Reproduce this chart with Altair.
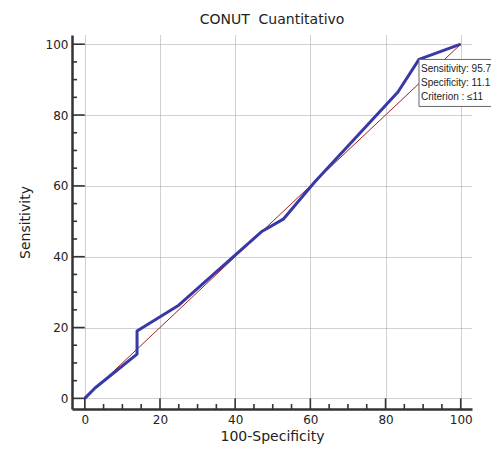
import altair as alt
import pandas as pd

# ROC curve vertices (100-Specificity, Sensitivity)
fpr = [0.0, 2.8, 13.9, 13.9, 25.0, 47.2, 52.8, 61.1, 83.3, 88.9, 100.0]
tpr = [0.0, 3.0, 12.5, 19.0, 26.3, 47.2, 50.6, 61.0, 86.5, 95.7, 100.0]
diag_x = [0, 100]
diag_y = [0, 100]
major_ticks = [0, 20, 40, 60, 80, 100]
minor_ticks = [5, 10, 15, 25, 30, 35, 45, 50, 55, 65, 70, 75, 85, 90, 95]
crit_x = [88.9]
crit_y = [95.7]
crit_lines = ["Sensitivity: 95.7", "Specificity: 11.1", "Criterion : \u226411"]

X_MIN, X_MAX = -3.4, 103.0
Y_MIN, Y_MAX = -3.0, 102.6
FONT = "DejaVu Sans"
INK = "#333333"

curve = pd.DataFrame({"x": fpr, "y": tpr, "i": list(range(len(fpr)))})
diag = pd.DataFrame({"x": diag_x, "y": diag_y})
xmaj = pd.DataFrame({"x": major_ticks, "y": Y_MIN, "y2": 0.0})
xmin = pd.DataFrame({"x": minor_ticks, "y": Y_MIN, "y2": Y_MIN + 1.4})
ymaj = pd.DataFrame({"y": major_ticks, "x": X_MIN, "x2": 0.0})
ymin = pd.DataFrame({"y": minor_ticks, "x": X_MIN, "x2": X_MIN + 1.35})
crit = pd.DataFrame({"x": crit_x, "y": crit_y, "t": ["\n".join(crit_lines)]})

xenc = alt.X(
    "x:Q",
    scale=alt.Scale(domain=[X_MIN, X_MAX], nice=False, zero=False),
    axis=alt.Axis(values=major_ticks, title="100-Specificity", ticks=False,
                  grid=True, gridDash=[1, 1], gridColor="#a0a0a0",
                  domainColor=INK, domainWidth=2.5, labelPadding=5,
                  titlePadding=4),
)
yenc = alt.Y(
    "y:Q",
    scale=alt.Scale(domain=[Y_MIN, Y_MAX], nice=False, zero=False),
    axis=alt.Axis(values=major_ticks, title="Sensitivity", ticks=False,
                  grid=True, gridDash=[1, 1], gridColor="#a0a0a0",
                  domainColor=INK, domainWidth=2.5, labelPadding=4,
                  titlePadding=13),
)

diag_layer = alt.Chart(diag).mark_line(color="#a02020", strokeWidth=1).encode(x=xenc, y=yenc)
curve_layer = alt.Chart(curve).mark_line(color="#3838a8", strokeWidth=3, strokeJoin="round").encode(
    x=xenc, y=yenc, order="i:Q")
xmaj_layer = alt.Chart(xmaj).mark_rule(color=INK, strokeWidth=1.6).encode(x=xenc, y=yenc, y2="y2:Q")
xmin_layer = alt.Chart(xmin).mark_rule(color=INK, strokeWidth=1.6).encode(x=xenc, y=yenc, y2="y2:Q")
ymaj_layer = alt.Chart(ymaj).mark_rule(color=INK, strokeWidth=1.6).encode(x=xenc, x2="x2:Q", y=yenc)
ymin_layer = alt.Chart(ymin).mark_rule(color=INK, strokeWidth=1.6).encode(x=xenc, x2="x2:Q", y=yenc)
box_layer = alt.Chart(crit).mark_rect(fill="white", stroke="#666666", strokeWidth=1,
                                      x2Offset=90, y2Offset=47).encode(
    x=xenc, x2="x:Q", y=yenc, y2="y:Q")
text_layer = alt.Chart(crit).mark_text(align="left", baseline="top", dx=2, dy=5,
                                       font="Liberation Sans", fontSize=10, lineHeight=14,
                                       lineBreak="\n", color="#222222").encode(
    x=xenc, y=yenc, text="t:N")

chart = alt.layer(
    diag_layer, curve_layer, xmaj_layer, xmin_layer, ymaj_layer, ymin_layer,
    box_layer, text_layer,
).properties(
    width=400, height=374,
    title=alt.Title("CONUT\u00a0 Cuantitativo", font=FONT, fontSize=14, fontWeight="normal",
                    color="#222222", anchor="middle", offset=8),
    autosize=alt.AutoSizeParams(type="none"),
    padding={"left": 64, "top": 27, "right": 19, "bottom": 35},
).configure_view(stroke=None).configure_axis(
    labelFont=FONT, labelFontSize=12, labelColor="#222222",
    titleFont=FONT, titleFontSize=14, titleFontWeight="normal", titleColor="#222222",
)

chart.save("out.html", embed_options={"renderer": "svg", "actions": False})
